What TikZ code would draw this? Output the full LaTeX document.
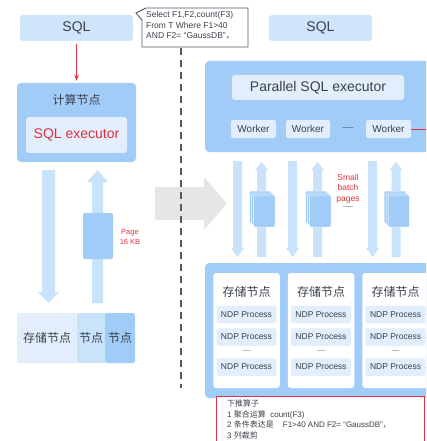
\documentclass[tikz,border=0pt]{standalone}
\usepackage{fontspec}
\setmainfont{Liberation Sans}
\newfontfamily\cjk{Noto Sans CJK SC}
\usetikzlibrary{arrows.meta}

\definecolor{midblue}{HTML}{A2CCF8}
\definecolor{paleblue}{HTML}{CFE6FA}
\definecolor{lightblue}{HTML}{E2EEFC}
\definecolor{shaftblue}{HTML}{C8E3FA}
\definecolor{txtgray}{HTML}{3B414B}
\definecolor{redtxt}{HTML}{E0323C}
\definecolor{arrowgray}{HTML}{E6E6E6}
\definecolor{dashgray}{HTML}{555A66}

\begin{document}
\begin{tikzpicture}[x=1pt,y=-1pt,
  bigfont/.style={font=\fontsize{14}{16}\selectfont},
  cjkfont/.style={font=\cjk\fontsize{12}{14}\selectfont},
  sqlbox/.style={fill=paleblue, rounded corners=3pt, inner sep=0pt, text=txtgray, bigfont},
  panel/.style={fill=midblue, rounded corners=4pt, inner sep=0pt},
  softbox/.style={fill=lightblue, rounded corners=3pt, inner sep=0pt},
  workerbox/.style={softbox, rounded corners=2pt, minimum width=45pt, minimum height=18pt,
    text=txtgray, font=\fontsize{10}{12}\selectfont},
  whitebox/.style={fill=white, rounded corners=3pt, inner sep=0pt, minimum width=66.5pt, minimum height=115pt},
  ndpbox/.style={softbox, rounded corners=2pt, minimum width=60pt, minimum height=17.5pt,
    text=txtgray, font=\fontsize{8.5}{10}\selectfont},
  dotsnode/.style={inner sep=0pt, text=txtgray, font=\fontsize{5}{6}\selectfont},
  shaft/.style={fill=shaftblue},
  sheet/.style={fill=midblue, draw=white, line width=0.5pt, rounded corners=1pt},
  redline/.style={draw=redtxt, line width=1pt},
  redtext/.style={text=redtxt, align=center, inner sep=0pt}
]
\useasboundingbox (0,0) rectangle (426,441);
\clip (0,0) rectangle (426,441);

% ---------- left: single compute node ----------
\node[sqlbox, minimum width=113pt, minimum height=26pt] (sqlL) at (76.5,28) {SQL};
\node[panel, minimum width=119pt, minimum height=79pt] (compute) at (76.5,122.5) {};
\node[cjkfont, text=txtgray, inner sep=0pt] (comptitle) at (76.5,100) {计算节点};
\node[softbox, minimum width=101pt, minimum height=36pt, text=redtxt, bigfont] (sqlexec) at (76.5,135) {SQL executor};
\draw[-{Stealth[length=6pt,width=4.5pt]}, redtxt, line width=0.8pt, shorten <=3pt, shorten >=2pt]
  (sqlL.south) -- (compute.north);

% data flow between compute and storage
\fill[shaft] (42,170) -- (55,170) -- (55,292) -- (59,292) -- (48.5,303) -- (38,292) -- (42,292) -- cycle;
\fill[shaft] (92,303) -- (103,303) -- (103,182) -- (108,182) -- (97.5,170) -- (87,182) -- (92,182) -- cycle;
\node[fill=midblue, rounded corners=2pt, minimum width=30pt, minimum height=46pt, inner sep=0pt] (page) at (98,236) {};
\node[redtext, font=\fontsize{7.5}{9.5}\selectfont] (pagelbl) at (130,237) {Page\\16 KB};

% storage row
\node[fill=lightblue, rounded corners=2pt, minimum width=60pt, minimum height=50pt, inner sep=0pt,
  cjkfont, text=txtgray] (s1) at (47,338) {存储节点};
\node[fill=shaftblue, minimum width=28pt, minimum height=50pt, inner sep=0pt,
  cjkfont, text=txtgray] (s2) at (91,338) {节点};
\node[fill=midblue, rounded corners=2pt, minimum width=30pt, minimum height=50pt, inner sep=0pt,
  cjkfont, text=txtgray] (s3) at (120,338) {节点};

% ---------- transition arrow and divider ----------
\fill[arrowgray] (155,187) -- (204,187) -- (204,177) -- (227,203.5) -- (204,230) -- (204,220) -- (155,220) -- cycle;
\coordinate (dtop) at (181,48);
\coordinate (dbot) at (181,388);
\draw[dashgray, line width=1.4pt, dash pattern=on 7pt off 5pt] (dtop) -- (dbot);

% query callout
\draw[fill=white, draw=dashgray, line width=0.9pt]
  (142,20) -- (136,13) -- (146,8) -- (248,8) -- (248,47) -- (142,47) -- cycle;
\node[anchor=north west, align=left, inner sep=0pt, text=txtgray,
  font=\fontsize{8.5}{10.8}\selectfont] (query) at (146,11)
  {Select F1,F2,count(F3)\\From T Where F1>40\\AND F2= “GaussDB”{\cjk ，}};

% ---------- right: parallel executor ----------
\node[sqlbox, minimum width=103pt, minimum height=26pt] (sqlR) at (320.5,28) {SQL};
\node[panel, minimum width=235pt, minimum height=91pt] (exec) at (322.5,106.5) {};
\node[softbox, minimum width=172pt, minimum height=25pt, text=txtgray, bigfont] (par) at (318,87.5) {Parallel SQL executor};
\node[workerbox] (w1) at (253.5,129) {Worker};
\node[workerbox, minimum width=44pt] (w2) at (308,129) {Worker};
\node[dotsnode, font=\fontsize{7}{8}\selectfont] (wdots) at (348,128) {-----};
\node[workerbox] (w3) at (388.5,129) {Worker};
\coordinate (wend) at (430,129);
\draw[redline] (w3.east) -- (wend);

% transfer arrows with page batches
\foreach \d/\u in {237.5/261.5, 292.5/317.5, 372.5/396} {
  \fill[shaft] ({\d-4.5},161) -- ({\d+4.5},161) -- ({\d+4.5},248) -- ({\d+6.5},248) -- (\d,257)
    -- ({\d-6.5},248) -- ({\d-4.5},248) -- cycle;
  \fill[shaft] ({\u-4.5},257) -- ({\u+4.5},257) -- ({\u+4.5},170) -- ({\u+6.5},170) -- (\u,162)
    -- ({\u-6.5},170) -- ({\u-4.5},170) -- cycle;
  \foreach \k in {4,2,0}
    \draw[sheet] ({\u-8-\k},{195-\k}) rectangle ({\u+13.5-\k},{227-\k});
}
\node[redtext, font=\fontsize{8.5}{10.5}\selectfont] (sbp) at (348,188.5) {Small\\batch\\pages};
\node[dotsnode] (sbpdots) at (348,207.5) {------};

% storage nodes with NDP processes
\node[panel, minimum width=235pt, minimum height=135pt] (store) at (322.5,330.5) {};
\foreach \i/\cx in {1/246.5, 2/321, 3/395.5} {
  \node[whitebox] (b\i) at (\cx,330.5) {};
  \node[cjkfont, text=txtgray, inner sep=0pt] (t\i) at (\cx,292) {存储节点};
  \node[ndpbox] (n\i1) at (\cx,314.5) {NDP Process};
  \node[ndpbox] (n\i2) at (\cx,337) {NDP Process};
  \node[dotsnode] (d\i) at (\cx,351.5) {-----};
  \node[ndpbox] (n\i3) at (\cx,367) {NDP Process};
}
\foreach \j in {1,2,3} {
  \coordinate (r\j) at ([xshift=6pt]n3\j.east);
  \draw[redline] (n3\j.east) -- (r\j);
}

% pushed-down operators
\node[draw=redtxt, line width=1pt, fill=white, minimum width=208pt, minimum height=52pt, inner sep=0pt] (push) at (320,422) {};
\node[anchor=west, align=left, inner sep=0pt, text=txtgray, font=\fontsize{8}{10.6}\selectfont] (pushtxt) at (227,419.5)
  {{\cjk 下推算子}\\
   1 {\cjk 聚合运算}\ \ count(F3)\\
   2 {\cjk 条件表达是}\hspace{9pt}F1>40 AND F2= “GaussDB”{\cjk ，}\\
   3 {\cjk 列裁剪}};
\end{tikzpicture}
\end{document}
